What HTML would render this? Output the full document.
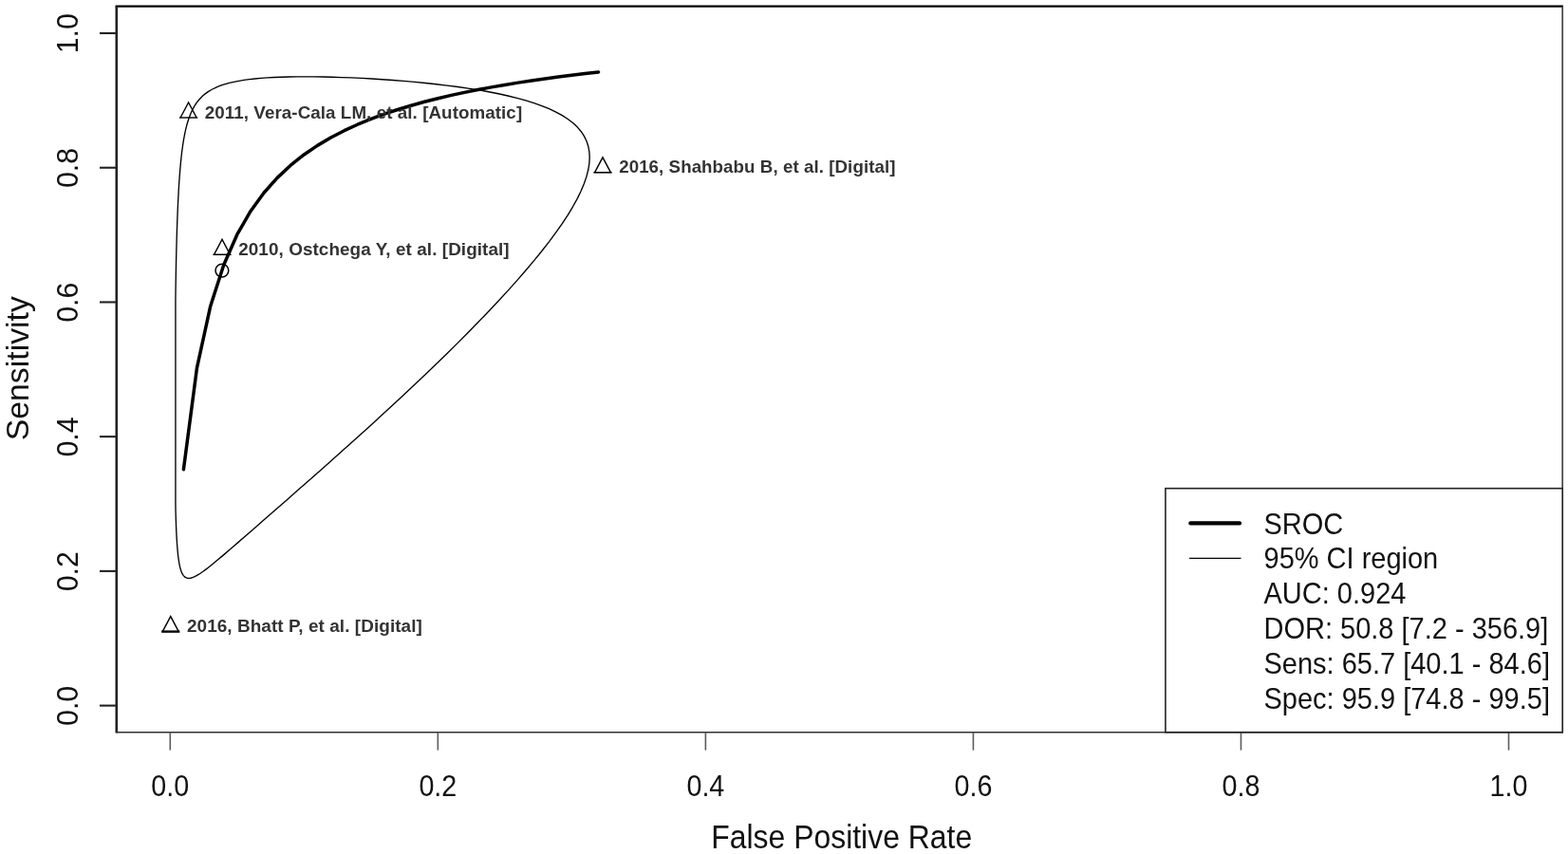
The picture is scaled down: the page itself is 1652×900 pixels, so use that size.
<!DOCTYPE html>
<html lang="en"><head><meta charset="utf-8"><title>SROC</title>
<style>
html,body{margin:0;padding:0;background:#fff;}
body{width:1652px;height:900px;overflow:hidden;}
svg{display:block;font-family:"Liberation Sans",Arial,sans-serif;}
.t{font-size:29px;fill:#111;}
.l{font-size:32.5px;fill:#111;}
.g{font-size:29px;fill:#111;}
.p{font-size:19px;font-weight:bold;fill:#333;letter-spacing:0.07px;}
</style></head><body>
<svg width="1652" height="900" viewBox="0 0 1652 900">
<rect width="1652" height="900" fill="#fff"/>

<path d="M621.20 165.85 L620.84 159.76 L619.74 153.97 L617.92 148.50 L615.38 143.33 L612.13 138.45 L608.19 133.85 L603.56 129.52 L598.26 125.45 L592.33 121.63 L585.77 118.05 L578.62 114.69 L570.90 111.56 L562.65 108.63 L553.90 105.89 L544.69 103.34 L535.06 100.98 L525.04 98.78 L514.69 96.74 L504.04 94.85 L493.14 93.12 L482.05 91.51 L470.80 90.05 L459.45 88.71 L448.04 87.48 L436.61 86.38 L425.23 85.38 L413.92 84.50 L402.73 83.71 L391.70 83.03 L380.87 82.44 L370.26 81.95 L359.92 81.55 L349.87 81.23 L340.13 81.01 L330.71 80.88 L321.65 80.83 L312.95 80.87 L304.62 81.00 L296.66 81.22 L289.08 81.52 L281.89 81.92 L275.07 82.41 L268.62 82.99 L262.54 83.67 L256.81 84.44 L251.43 85.33 L246.39 86.31 L241.67 87.41 L237.25 88.62 L233.14 89.96 L229.30 91.42 L225.74 93.01 L222.42 94.74 L219.35 96.61 L216.49 98.64 L213.85 100.83 L211.41 103.19 L209.15 105.72 L207.06 108.45 L205.14 111.36 L203.36 114.49 L201.72 117.83 L200.21 121.40 L198.81 125.20 L197.53 129.25 L196.35 133.57 L195.26 138.15 L194.26 143.01 L193.34 148.16 L192.50 153.62 L191.72 159.38 L191.00 165.46 L190.35 171.86 L189.74 178.59 L189.18 185.65 L188.67 193.05 L188.21 200.78 L187.78 208.85 L187.38 217.24 L187.02 225.96 L186.69 235.00 L186.38 244.33 L186.11 253.96 L185.85 263.85 L185.62 273.99 L185.42 284.36 L185.23 294.93 L185.06 305.67 L184.95 316.56 L184.95 327.56 L184.95 338.64 L184.95 349.76 L184.95 360.90 L184.95 372.02 L184.95 383.08 L184.95 394.06 L184.95 404.91 L184.95 415.62 L184.95 426.14 L184.95 436.46 L184.95 446.55 L184.95 456.39 L184.95 465.96 L184.95 475.23 L184.95 484.21 L184.95 492.87 L184.95 501.21 L184.95 509.21 L184.95 516.88 L184.95 524.21 L184.95 531.21 L185.06 537.86 L185.23 544.18 L185.42 550.16 L185.62 555.81 L185.85 561.14 L186.11 566.15 L186.38 570.84 L186.69 575.24 L187.02 579.33 L187.38 583.13 L187.78 586.65 L188.21 589.89 L188.67 592.86 L189.18 595.57 L189.74 598.02 L190.35 600.22 L191.00 602.17 L191.72 603.88 L192.50 605.36 L193.34 606.60 L194.26 607.62 L195.26 608.40 L196.35 608.96 L197.53 609.30 L198.81 609.42 L200.21 609.32 L201.72 608.99 L203.36 608.44 L205.14 607.67 L207.06 606.67 L209.15 605.45 L211.41 603.99 L213.85 602.29 L216.49 600.35 L219.35 598.17 L222.42 595.73 L225.74 593.04 L229.30 590.09 L233.14 586.87 L237.25 583.37 L241.67 579.58 L246.39 575.51 L251.43 571.13 L256.81 566.46 L262.54 561.47 L268.62 556.16 L275.07 550.53 L281.89 544.57 L289.08 538.27 L296.66 531.64 L304.62 524.67 L312.95 517.36 L321.65 509.71 L330.71 501.73 L340.13 493.41 L349.87 484.77 L359.92 475.81 L370.26 466.56 L380.87 457.01 L391.70 447.19 L402.73 437.11 L413.92 426.81 L425.23 416.29 L436.61 405.60 L448.04 394.75 L459.45 383.79 L470.80 372.73 L482.05 361.61 L493.14 350.47 L504.04 339.34 L514.69 328.26 L525.04 317.26 L535.06 306.36 L544.69 295.61 L553.90 285.03 L562.65 274.64 L570.90 264.49 L578.62 254.58 L585.77 244.94 L592.33 235.58 L598.26 226.53 L603.56 217.79 L608.19 209.37 L612.13 201.28 L615.38 193.53 L617.92 186.11 L619.74 179.03 L620.84 172.28 Z" fill="none" stroke="#000" stroke-width="1.35" stroke-linejoin="round"/>
<path d="M193.40 494.75 L207.50 387.58 L221.61 323.07 L235.71 279.23 L249.81 247.23 L263.91 222.70 L278.01 203.24 L292.12 187.38 L306.22 174.17 L320.32 162.99 L334.42 153.38 L348.52 145.04 L362.63 137.71 L376.73 131.22 L390.83 125.42 L404.93 120.21 L419.03 115.50 L433.14 111.22 L447.24 107.31 L461.34 103.73 L475.44 100.42 L489.54 97.37 L503.65 94.54 L517.75 91.90 L531.85 89.44 L545.95 87.14 L560.05 84.99 L574.16 82.96 L588.26 81.05 L602.36 79.25 L616.46 77.54 L630.56 75.93" fill="none" stroke="#000" stroke-width="3.5" stroke-linejoin="round" stroke-linecap="round"/>
<circle cx="233.9" cy="285.1" r="6.9" fill="none" stroke="#000" stroke-width="1.5"/>
<path d="M190.10 124.00 L198.60 108.00 L207.10 124.00" fill="none" stroke="#000" stroke-width="1.4" stroke-linejoin="miter"/>
<line x1="189.00" y1="124.00" x2="208.20" y2="124.00" stroke="#000" stroke-width="1.4"/>
<text class="p" text-anchor="start" transform="translate(215.80 125.40) scale(0.989 0.980)">2011, Vera-Cala LM, et al. [Automatic]</text>
<path d="M626.50 181.80 L635.00 165.80 L643.50 181.80" fill="none" stroke="#000" stroke-width="1.4" stroke-linejoin="miter"/>
<line x1="625.40" y1="181.80" x2="644.60" y2="181.80" stroke="#000" stroke-width="1.6"/>
<text class="p" text-anchor="start" transform="translate(652.20 182.00) scale(0.985 0.980)">2016, Shahbabu B, et al. [Digital]</text>
<path d="M225.50 268.30 L234.00 252.30 L242.50 268.30" fill="none" stroke="#000" stroke-width="1.4" stroke-linejoin="miter"/>
<line x1="224.40" y1="268.30" x2="243.60" y2="268.30" stroke="#000" stroke-width="1.5"/>
<text class="p" text-anchor="start" transform="translate(251.20 269.40) scale(0.995 0.980)">2010, Ostchega Y, et al. [Digital]</text>
<path d="M171.25 665.60 L179.75 649.60 L188.25 665.60" fill="none" stroke="#000" stroke-width="1.4" stroke-linejoin="miter"/>
<line x1="170.15" y1="665.60" x2="189.35" y2="665.60" stroke="#000" stroke-width="2.4"/>
<text class="p" text-anchor="start" transform="translate(196.95 665.80) scale(0.997 0.980)">2016, Bhatt P, et al. [Digital]</text>
<line x1="121.6" y1="6.65" x2="1646.9" y2="6.65" stroke="#000" stroke-width="2.3"/>
<line x1="122.8" y1="6.65" x2="122.8" y2="772.5" stroke="#222" stroke-width="2.6"/>
<line x1="122.8" y1="771.7" x2="1647.0" y2="771.7" stroke="#333" stroke-width="1.6"/>
<line x1="1646.2" y1="6.65" x2="1646.2" y2="771.7" stroke="#444" stroke-width="1.7"/>
<line x1="179.30" y1="771.7" x2="179.30" y2="790.6" stroke="#5c5c5c" stroke-width="1.6"/>
<line x1="105" y1="743.60" x2="122.8" y2="743.60" stroke="#222" stroke-width="2.1"/>
<text class="t" text-anchor="middle" transform="translate(179.30 839.00) scale(0.990 1.050)">0.0</text>
<text class="t" text-anchor="middle" transform="translate(81.90 743.90) rotate(-90) scale(1.045 1.090)">0.0</text>
<line x1="461.34" y1="771.7" x2="461.34" y2="790.6" stroke="#5c5c5c" stroke-width="1.6"/>
<line x1="105" y1="601.88" x2="122.8" y2="601.88" stroke="#222" stroke-width="2.1"/>
<text class="t" text-anchor="middle" transform="translate(461.34 839.00) scale(0.990 1.050)">0.2</text>
<text class="t" text-anchor="middle" transform="translate(81.90 602.18) rotate(-90) scale(1.045 1.090)">0.2</text>
<line x1="743.38" y1="771.7" x2="743.38" y2="790.6" stroke="#5c5c5c" stroke-width="1.6"/>
<line x1="105" y1="460.16" x2="122.8" y2="460.16" stroke="#222" stroke-width="2.1"/>
<text class="t" text-anchor="middle" transform="translate(743.38 839.00) scale(0.990 1.050)">0.4</text>
<text class="t" text-anchor="middle" transform="translate(81.90 460.46) rotate(-90) scale(1.045 1.090)">0.4</text>
<line x1="1025.42" y1="771.7" x2="1025.42" y2="790.6" stroke="#5c5c5c" stroke-width="1.6"/>
<line x1="105" y1="318.44" x2="122.8" y2="318.44" stroke="#222" stroke-width="2.1"/>
<text class="t" text-anchor="middle" transform="translate(1025.42 839.00) scale(0.990 1.050)">0.6</text>
<text class="t" text-anchor="middle" transform="translate(81.90 318.74) rotate(-90) scale(1.045 1.090)">0.6</text>
<line x1="1307.46" y1="771.7" x2="1307.46" y2="790.6" stroke="#5c5c5c" stroke-width="1.6"/>
<line x1="105" y1="176.72" x2="122.8" y2="176.72" stroke="#222" stroke-width="2.1"/>
<text class="t" text-anchor="middle" transform="translate(1307.46 839.00) scale(0.990 1.050)">0.8</text>
<text class="t" text-anchor="middle" transform="translate(81.90 177.02) rotate(-90) scale(1.045 1.090)">0.8</text>
<line x1="1589.50" y1="771.7" x2="1589.50" y2="790.6" stroke="#5c5c5c" stroke-width="1.6"/>
<line x1="105" y1="35.00" x2="122.8" y2="35.00" stroke="#222" stroke-width="2.1"/>
<text class="t" text-anchor="middle" transform="translate(1589.50 839.00) scale(0.990 1.050)">1.0</text>
<text class="t" text-anchor="middle" transform="translate(81.90 35.30) rotate(-90) scale(1.045 1.090)">1.0</text>
<text class="l" text-anchor="middle" transform="translate(886.70 894.00) scale(0.982 1.055)">False Positive Rate</text>
<text class="l" text-anchor="middle" transform="translate(30.40 388.20) rotate(-90) scale(1.040 1.000)">Sensitivity</text>
<rect x="1227.9" y="514.7" width="418.3" height="257.0" fill="#fff" stroke="#222" stroke-width="1.6"/>
<line x1="1254.3" y1="551.4" x2="1306" y2="551.4" stroke="#000" stroke-width="4.2" stroke-linecap="round"/>
<line x1="1253" y1="588.4" x2="1307.5" y2="588.4" stroke="#000" stroke-width="1.35"/>
<text class="g" text-anchor="start" transform="translate(1331.50 562.60) scale(1.000 1.090)">SROC</text>
<text class="g" text-anchor="start" transform="translate(1331.50 599.40) scale(1.000 1.090)">95% CI region</text>
<text class="g" text-anchor="start" transform="translate(1331.50 636.20) scale(1.000 1.090)">AUC: 0.924</text>
<text class="g" text-anchor="start" transform="translate(1331.50 673.00) scale(1.000 1.090)">DOR: 50.8 [7.2 - 356.9]</text>
<text class="g" text-anchor="start" transform="translate(1331.50 709.80) scale(1.000 1.090)">Sens: 65.7 [40.1 - 84.6]</text>
<text class="g" text-anchor="start" transform="translate(1331.50 746.60) scale(1.000 1.090)">Spec: 95.9 [74.8 - 99.5]</text>
</svg></body></html>
